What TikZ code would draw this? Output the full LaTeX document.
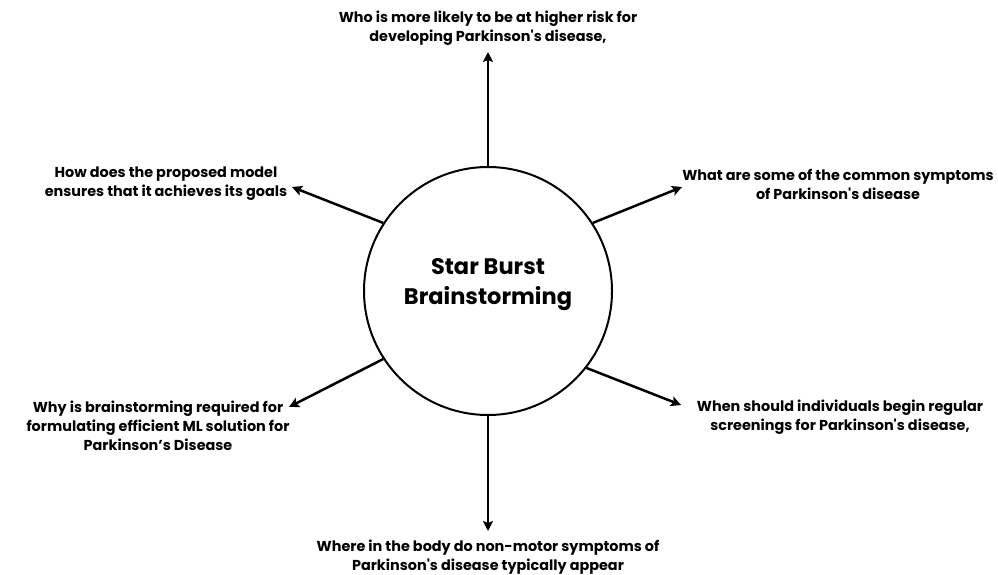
\documentclass[tikz,border=0pt]{standalone}
\usepackage{fontspec}
\setmainfont{Poppins}[Ligatures=TeXOff]
\usepackage{tikz}
\usetikzlibrary{arrows.meta,positioning}

\begin{document}
\begin{tikzpicture}[
  x=1pt, y=-1pt,
  font=\fontsize{14.4}{19}\selectfont\bfseries,
  hub/.style={draw, circle, line width=2pt, minimum size=248pt, inner sep=0pt},
  title/.style={align=center, font=\fontsize{22.5}{30}\selectfont\bfseries},
  question/.style={align=center, inner sep=0pt},
  spoke/.style={->, line width=2.5pt},
  >={Stealth[length=10pt, width=10pt, inset=2pt]}
]
\useasboundingbox (0,0) rectangle (998,575);
\node[hub] (hub) at (488,291) {};
\node[title] (title) at (488,285) {Star Burst\\Brainstorming};

\node[question] (who) at (488,28)
  {Who is more likely to be at higher risk for\\developing Parkinson's disease,};
\node[question] (how) at (166,184)
  {How does the proposed model\\ensures that it achieves its goals};
\node[question] (what) at (838,184)
  {What are some of the common symptoms\\of Parkinson's disease};
\node[question] (why) at (158,426)
  {Why is brainstorming required for\\formulating efficient ML solution for\\Parkinson’s Disease};
\node[question] (when) at (840,417)
  {When should individuals begin regular\\screenings for Parkinson's disease,};
\node[question] (where) at (488,557)
  {Where in the body do non-motor symptoms of\\Parkinson's disease typically appear};

% arrow tips
\coordinate (whotip) at (488,52);
\coordinate (howtip) at (292,187);
\coordinate (whattip) at (682,187);
\coordinate (whytip) at (289,407);
\coordinate (whentip) at (681,405);
\coordinate (wheretip) at (488,531);

\draw[spoke] (hub.north) -- (whotip);
\draw[spoke] (hub.147) -- (howtip);
\draw[spoke] (hub.33) -- (whattip);
\draw[spoke] (hub.213) -- (whytip);
\draw[spoke] (hub.322) -- (whentip);
\draw[spoke] (hub.south) -- (wheretip);
\end{tikzpicture}
\end{document}
